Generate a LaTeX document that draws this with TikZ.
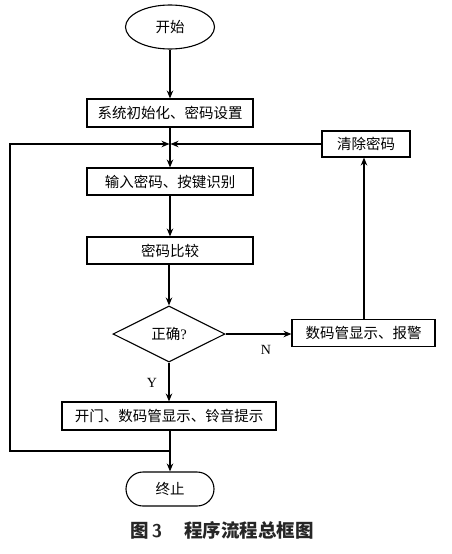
\documentclass[tikz,border=0pt]{standalone}
\usepackage{fontspec}
\setmainfont{Liberation Serif}
\newfontfamily\cjk{Noto Sans CJK SC}
\usetikzlibrary{shapes.geometric,arrows.meta}
\begin{document}
\begin{tikzpicture}[x=1pt,y=-1pt,line width=1.1pt,
  txt/.style={font=\cjk\fontsize{14.5}{14.5}\selectfont},
  box/.style={draw,rectangle,inner sep=0pt,txt},
  arr/.style={-{Stealth[length=8pt,width=6.5pt]}}]
\useasboundingbox (0,0) rectangle (451,554);
\node[draw,ellipse,inner sep=0pt,minimum width=89pt,minimum height=44pt,txt] (start) at (170,27) {开始};
\node[box,minimum width=166pt,minimum height=28pt] (init) at (170,113) {系统初始化、密码设置};
\coordinate (j) at (170,144);
\node[box,minimum width=88pt,minimum height=26pt] (clear) at (366,144) {清除密码};
\node[box,minimum width=166pt,minimum height=27pt] (input) at (170,181.5) {输入密码、按键识别};
\node[box,minimum width=166pt,minimum height=27pt] (cmp) at (170,250.5) {密码比较};
\node[draw,diamond,inner sep=0pt,minimum width=112pt,minimum height=56pt,aspect=2,txt] (dec) at (169,334) {正确{\rmfamily ?}};
\node[box,minimum width=143pt,minimum height=27pt] (alarm) at (363.5,333) {数码管显示、报警};
\node[box,minimum width=214pt,minimum height=28pt] (open) at (169,416) {开门、数码管显示、铃音提示};
\node[draw,rectangle,rounded corners=17pt,minimum width=88pt,minimum height=34pt,inner sep=0pt,txt] (end) at (170,489) {终止};
\coordinate (m) at (170,451);
\coordinate (lb) at (10,451);
\coordinate (lt) at (10,144);
\draw[arr] (start) -- (init);
\draw[arr] (init) -- (input);
\draw[arr] (m) -- (lb) -- (lt) -- ([xshift=-0.5pt]j);
\draw[arr] (clear.west) -- ([xshift=0.5pt]j);
\draw[arr] (input) -- (cmp);
\draw[arr] (cmp.south -| dec.north) -- (dec.north);
\draw[arr] (dec.east) -- (alarm.west |- dec.east);
\draw[arr] (alarm.north -| 364,0) -- (clear.south -| 364,0);
\draw[arr] (dec.south) -- (open.north -| dec.south);
\draw[arr] (open.south -| m) -- (end.north -| m);
\node[font=\fontsize{14}{14}\selectfont] (n) at (266,350) {N};
\node[font=\fontsize{14}{14}\selectfont] (y) at (152,383) {Y};
\node[font=\cjk\bfseries\fontsize{18.5}{18.5}\selectfont,text=black!85] (cap) at (222,530) {图\,{\sffamily\bfseries 3}\hspace{1.2em}程序流程总框图};
\end{tikzpicture}
\end{document}
